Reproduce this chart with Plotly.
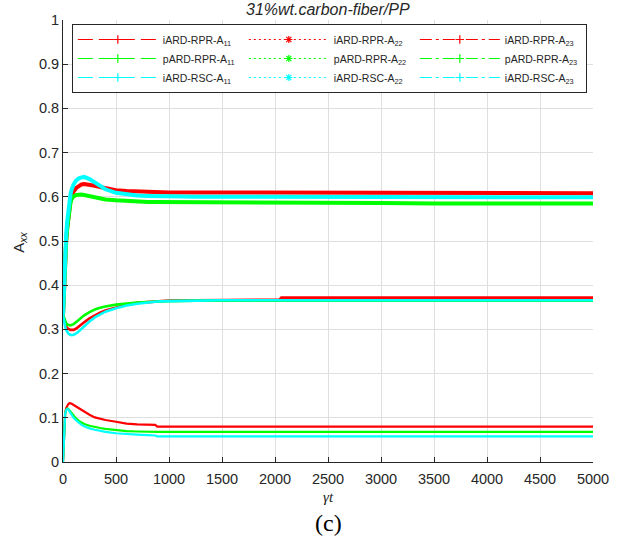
import plotly.graph_objects as go

# Time axis (gamma * t) shared by every series
t = [0, 10, 20, 30, 40, 50, 60, 70, 80, 100, 125, 150, 175, 200, 250, 300, 350, 400,
     500, 600, 700, 800, 870, 890, 1000, 1250, 1500, 2000, 2040, 2060, 2500, 3000,
     3500, 4000, 4500, 5000]

# iARD-RPR (red)
irpr_a11 = [0.333, 0.400, 0.460, 0.500, 0.530, 0.555, 0.575, 0.590, 0.600, 0.612, 0.620,
            0.625, 0.628, 0.629, 0.628, 0.625, 0.622, 0.619, 0.615, 0.613, 0.612, 0.611,
            0.611, 0.611, 0.610, 0.610, 0.610, 0.609, 0.609, 0.609, 0.609, 0.609, 0.609,
            0.608, 0.608, 0.608]
irpr_a22 = [0.333, 0.322, 0.313, 0.307, 0.303, 0.301, 0.300, 0.299, 0.299, 0.299, 0.302,
            0.306, 0.311, 0.316, 0.325, 0.332, 0.338, 0.343, 0.350, 0.356, 0.360, 0.362,
            0.363, 0.364, 0.365, 0.366, 0.366, 0.367, 0.367, 0.372, 0.372, 0.372, 0.372,
            0.372, 0.372, 0.372]
irpr_a23 = [0.000, 0.080, 0.110, 0.122, 0.128, 0.131, 0.133, 0.133, 0.132, 0.129, 0.125,
            0.121, 0.117, 0.113, 0.107, 0.101, 0.098, 0.095, 0.091, 0.087, 0.085, 0.084,
            0.084, 0.080, 0.080, 0.080, 0.080, 0.080, 0.080, 0.080, 0.080, 0.080, 0.080,
            0.080, 0.080, 0.080]

# pARD-RPR (green)
prpr_a11 = [0.333, 0.400, 0.460, 0.500, 0.530, 0.555, 0.573, 0.586, 0.594, 0.601, 0.604,
            0.605, 0.605, 0.604, 0.601, 0.598, 0.596, 0.594, 0.592, 0.590, 0.589, 0.588,
            0.588, 0.588, 0.587, 0.587, 0.586, 0.586, 0.586, 0.586, 0.586, 0.586, 0.585,
            0.585, 0.585, 0.585]
prpr_a22 = [0.333, 0.325, 0.318, 0.314, 0.311, 0.310, 0.309, 0.309, 0.310, 0.312, 0.317,
            0.322, 0.327, 0.332, 0.339, 0.345, 0.349, 0.352, 0.356, 0.359, 0.361, 0.362,
            0.363, 0.363, 0.364, 0.365, 0.365, 0.365, 0.365, 0.365, 0.365, 0.365, 0.365,
            0.365, 0.365, 0.365]
prpr_a23 = [0.000, 0.080, 0.108, 0.118, 0.121, 0.120, 0.117, 0.113, 0.110, 0.104, 0.098,
            0.093, 0.089, 0.086, 0.082, 0.079, 0.077, 0.075, 0.072, 0.070, 0.069, 0.068,
            0.068, 0.068, 0.068, 0.068, 0.068, 0.068, 0.068, 0.068, 0.068, 0.068, 0.068,
            0.068, 0.068, 0.068]

# iARD-RSC (cyan)
irsc_a11 = [0.333, 0.410, 0.470, 0.515, 0.545, 0.570, 0.590, 0.605, 0.615, 0.628, 0.637,
            0.642, 0.644, 0.645, 0.640, 0.632, 0.624, 0.617, 0.609, 0.605, 0.603, 0.602,
            0.601, 0.601, 0.601, 0.600, 0.600, 0.600, 0.600, 0.600, 0.600, 0.599, 0.599,
            0.599, 0.599, 0.599]
irsc_a22 = [0.333, 0.318, 0.306, 0.299, 0.294, 0.291, 0.289, 0.288, 0.287, 0.288, 0.291,
            0.296, 0.302, 0.308, 0.318, 0.327, 0.334, 0.340, 0.348, 0.354, 0.358, 0.361,
            0.362, 0.363, 0.364, 0.365, 0.366, 0.366, 0.366, 0.366, 0.366, 0.366, 0.366,
            0.366, 0.366, 0.366]
irsc_a23 = [0.000, 0.080, 0.108, 0.118, 0.120, 0.119, 0.115, 0.111, 0.107, 0.100, 0.094,
            0.088, 0.084, 0.081, 0.076, 0.073, 0.070, 0.068, 0.065, 0.063, 0.062, 0.061,
            0.060, 0.058, 0.058, 0.058, 0.058, 0.058, 0.058, 0.058, 0.058, 0.058, 0.058,
            0.058, 0.058, 0.058]

x_ticks = [0, 500, 1000, 1500, 2000, 2500, 3000, 3500, 4000, 4500, 5000]
y_ticks = [0, 0.1, 0.2, 0.3, 0.4, 0.5, 0.6, 0.7, 0.8, 0.9, 1]

RED, GREEN, CYAN = "#ff0000", "#00ff00", "#00ffff"

models = [
    ("iARD-RPR", RED, irpr_a11, irpr_a22, irpr_a23),
    ("pARD-RPR", GREEN, prpr_a11, prpr_a22, prpr_a23),
    ("iARD-RSC", CYAN, irsc_a11, irsc_a22, irsc_a23),
]

# component -> (width in plot, legend dash, legend marker)
comp_style = {
    "11": (4.0, "15px,6px", "cross-thin"),
    "22": (2.6, "2px,3px", "asterisk"),
    "23": (2.2, "12px,4px,3px,4px", "cross-thin"),
}

fig = go.Figure()

# data curves
for name, col, a11, a22, a23 in models:
    for comp, ys in (("11", a11), ("22", a22), ("23", a23)):
        w = comp_style[comp][0]
        fig.add_trace(go.Scatter(
            x=t, y=ys, mode="lines", line=dict(color=col, width=w),
            showlegend=False, hoverinfo="skip"))

# legend entries (row per model, column per component)
for name, col, *_ in models:
    for comp in ("11", "22", "23"):
        _, dash, sym = comp_style[comp]
        fig.add_trace(go.Scatter(
            x=[None], y=[None], mode="lines+markers",
            name=f"{name}-A<sub>{comp}</sub>",
            line=dict(color=col, width=1.2, dash=dash),
            marker=dict(color=col, symbol=sym, size=6,
                        line=dict(color=col, width=1.2))))

L, R, T, B = 63, 18, 20, 86
W, H = 621, 548
pw, ph = W - L - R, H - T - B


def px_x(px):
    return (px - L) / pw


def px_y(py):
    return (H - B - py) / ph


tick_font = dict(family="Arial, Liberation Sans, sans-serif", size=14.5, color="#262626")


def note(text, x, y, size, family="Arial, Liberation Sans, sans-serif", angle=0, color="#262626"):
    return dict(text=text, x=px_x(x), y=px_y(y), xref="paper", yref="paper",
                xanchor="center", yanchor="middle", showarrow=False, textangle=angle,
                font=dict(family=family, size=size, color=color))


fig.update_layout(
    width=W, height=H,
    margin=dict(l=L, r=R, t=T, b=B),
    paper_bgcolor="white", plot_bgcolor="white",
    font=dict(family="Arial, Liberation Sans, sans-serif", color="#262626"),
    xaxis=dict(range=[0, 5000], tickvals=x_ticks, ticktext=[str(v) for v in x_ticks],
               showgrid=True, gridcolor="#dfdfdf", gridwidth=1,
               showline=True, linecolor="#262626", linewidth=1,
               ticks="inside", ticklen=5, tickcolor="#262626",
               ticklabelstandoff=4,
               zeroline=False, tickfont=tick_font),
    yaxis=dict(range=[0, 1], tickvals=y_ticks, ticktext=[f"{v:g}" for v in y_ticks],
               showgrid=True, gridcolor="#dfdfdf", gridwidth=1,
               showline=True, linecolor="#262626", linewidth=1,
               ticks="inside", ticklen=5, tickcolor="#262626",
               zeroline=False, tickfont=tick_font),
    legend=dict(
        orientation="h", x=px_x(72), y=px_y(24), xanchor="left", yanchor="top",
        entrywidth=76, entrywidthmode="pixels", itemwidth=80,
        bgcolor="white", bordercolor="#262626", borderwidth=1,
        font=dict(family="Arial, Liberation Sans, sans-serif", size=10.5, color="#262626"),
        traceorder="normal", itemclick=False, itemdoubleclick=False),
    annotations=[
        note("<i>31%wt.carbon-fiber/PP</i>", 333, 9, 16),
        note("A<sub><i>xx</i></sub>", 18, 242, 15, angle=-90),
        note("<i>γt</i>", 334, 497, 15, family="Liberation Serif, Times New Roman, serif"),
        note("(c)", 334, 523, 24, family="Liberation Serif, Times New Roman, serif",
             color="black"),
    ],
)

fig.write_html("out.html")
